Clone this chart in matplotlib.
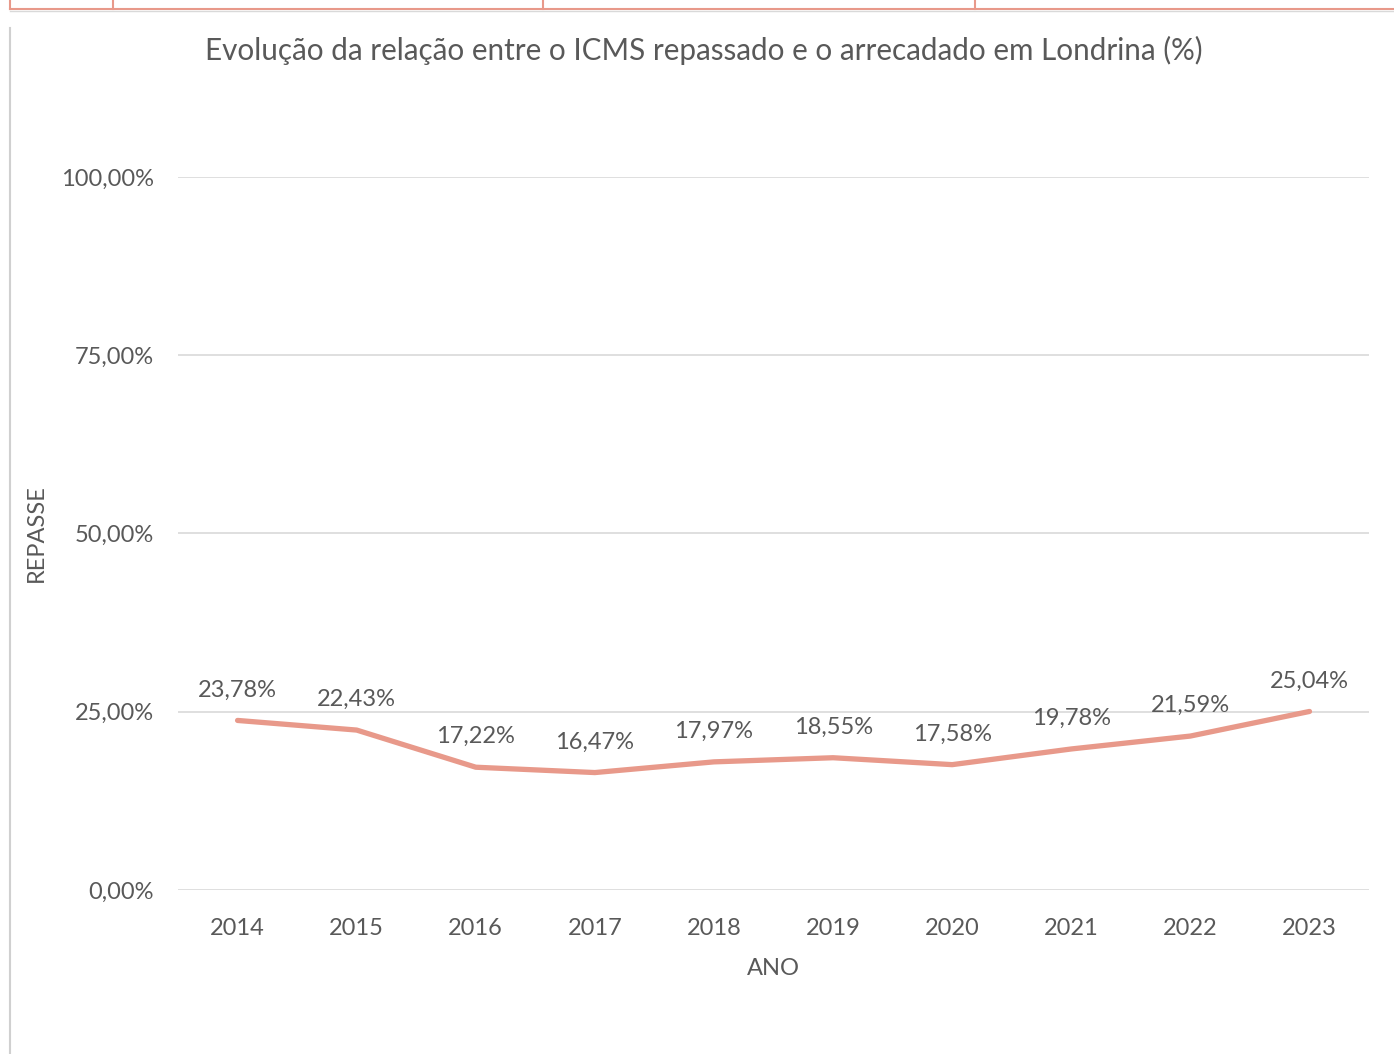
import matplotlib.pyplot as plt
from matplotlib.lines import Line2D
from matplotlib.ticker import FuncFormatter

plt.rcParams['font.family'] = ['Lato', 'DejaVu Sans']

anos = ['2014', '2015', '2016', '2017', '2018', '2019', '2020', '2021', '2022', '2023']
repasse = [23.78, 22.43, 17.22, 16.47, 17.97, 18.55, 17.58, 19.78, 21.59, 25.04]
y_ticks = [0, 25, 50, 75, 100]

texto = '#595959'
linha = '#E8998A'
grade = '#D9D9D9'


def pct(v, pos=None):
    return f'{v:.2f}%'.replace('.', ',')


fig = plt.figure(figsize=(13.94, 10.54), dpi=100)
ax = fig.add_axes([0.1277, 0.1556, 0.8544, 0.6765])

x = list(range(len(anos)))
ax.plot(x, repasse, color=linha, lw=3.8, solid_capstyle='round', zorder=3)
for xi, v in zip(x, repasse):
    ax.annotate(pct(v), (xi, v), xytext=(0, 22), textcoords='offset points',
                ha='center', va='center', fontsize=17, color=texto)

ax.set_xlim(-0.5, len(anos) - 0.5)
ax.set_ylim(0, 100)
ax.set_yticks(y_ticks)
ax.yaxis.set_major_formatter(FuncFormatter(pct))
ax.set_xticks(x)
ax.set_xticklabels(anos)
ax.tick_params(axis='both', length=0, labelsize=17, labelcolor=texto)
ax.tick_params(axis='y', pad=17.5)
ax.tick_params(axis='x', pad=20.5)
ax.grid(axis='y', color=grade, lw=1.2)
ax.set_axisbelow(True)
for s in ax.spines.values():
    s.set_visible(False)

ax.set_xlabel('ANO', fontsize=17, color=texto, labelpad=13)
ax.set_ylabel('REPASSE', fontsize=17, color=texto, labelpad=10)
fig.text(0.505, 0.952, 'Evolução da relação entre o ICMS repassado e o arrecadado em Londrina (%)',
         ha='center', va='center', fontsize=21.3, color=texto)

# restos da tabela acima do gráfico e borda do quadro
H = 1054.0
W = 1394.0
fig.add_artist(Line2D([10 / W, 10 / W], [0, 1 - 28 / H], color='#D0D0D0', lw=1.5))
fig.add_artist(Line2D([10 / W, 1], [1 - 9 / H, 1 - 9 / H], color='#E8998A', lw=1.5))
fig.add_artist(Line2D([10 / W, 1], [1 - 11 / H, 1 - 11 / H], color='#D9D9D9', lw=1.0))
for xp in [10, 113, 543, 975]:
    fig.add_artist(Line2D([xp / W, xp / W], [1 - 9 / H, 1], color='#E8998A', lw=1.5))

fig.savefig('out.png', dpi=100)
